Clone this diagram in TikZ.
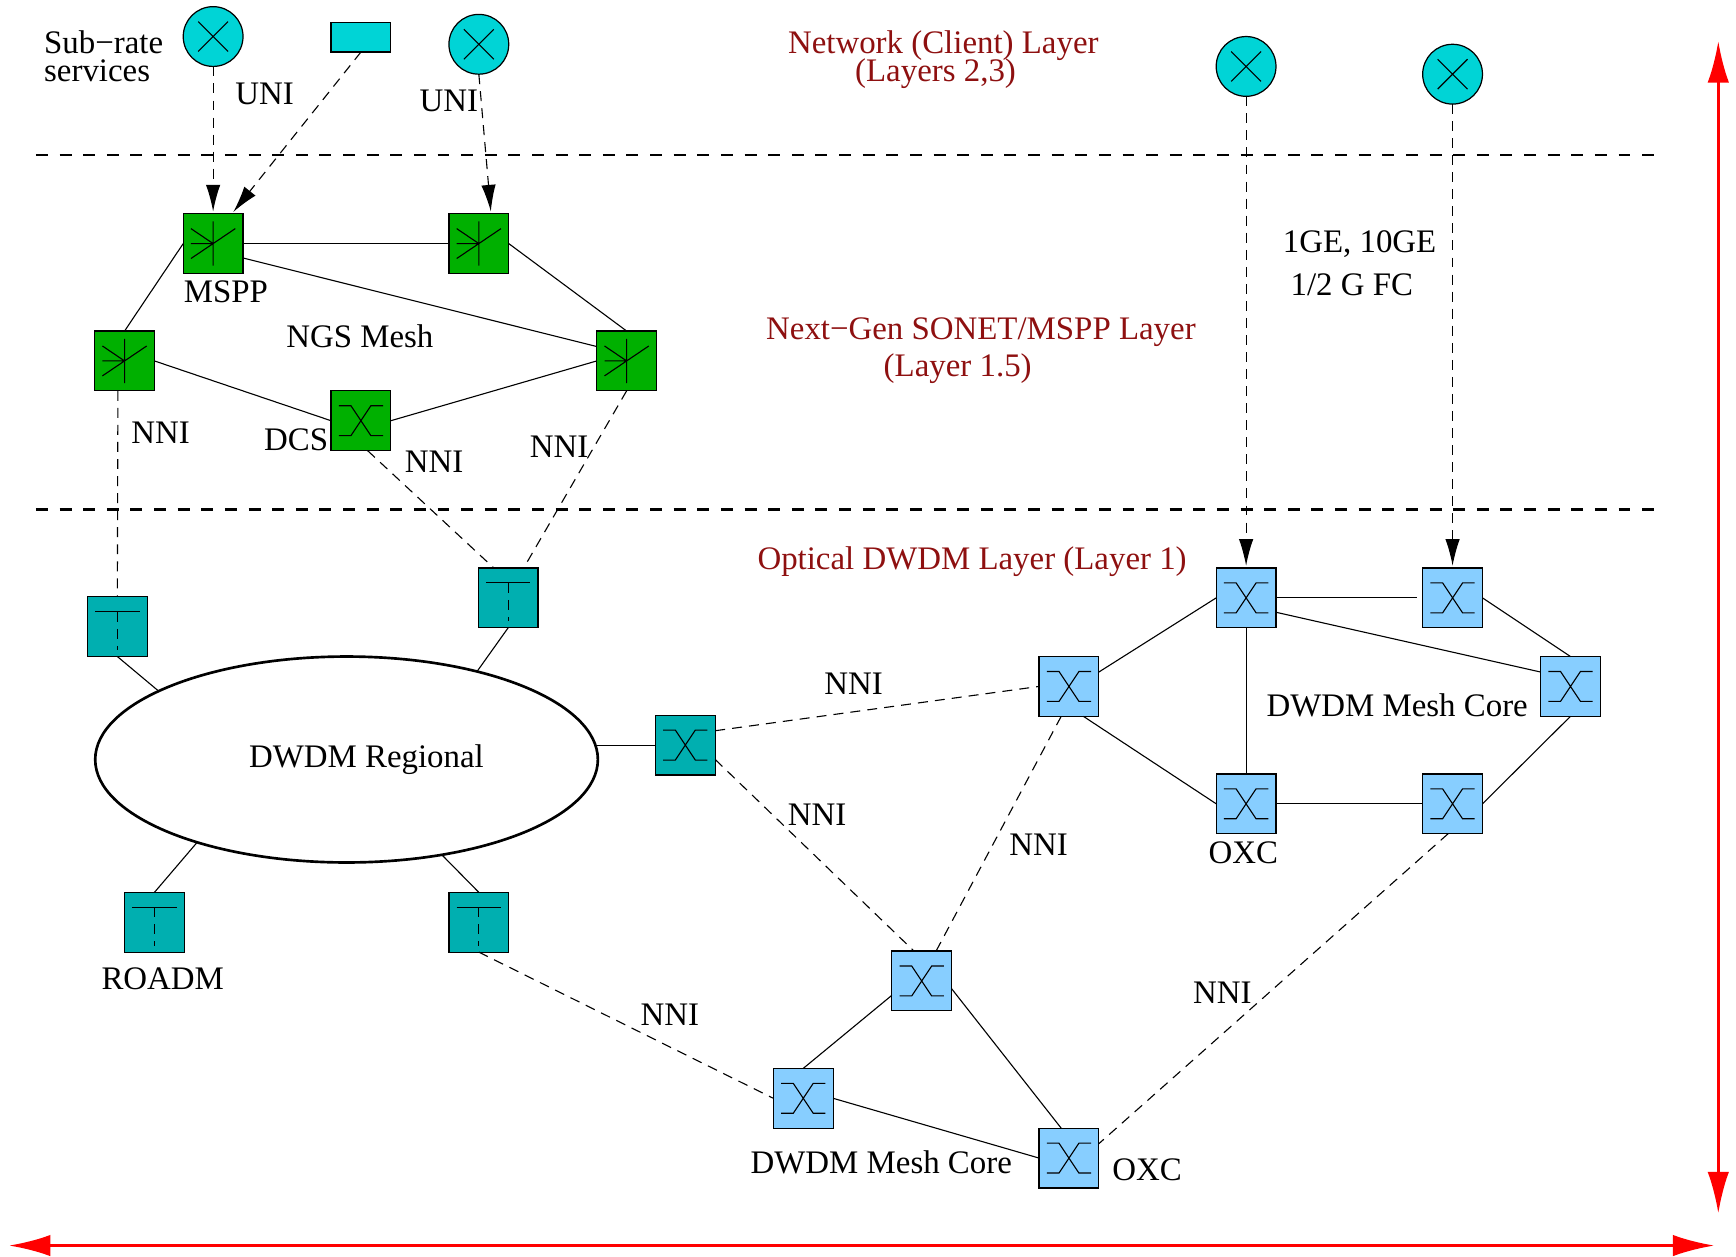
\documentclass[tikz,border=0pt]{standalone}
\usepackage{fontspec}
\setmainfont{Liberation Serif}
\usetikzlibrary{arrows.meta,calc,shapes.geometric}
\definecolor{cclient}{HTML}{00D4D6}
\definecolor{cgreen}{HTML}{00B000}
\definecolor{cteal}{HTML}{00AFB0}
\definecolor{cblue}{HTML}{87CEFF}
\definecolor{cdark}{HTML}{8E1010}
\tikzset{
  devbox/.style={draw=black,line width=.55pt,rectangle,minimum width=27pt,minimum height=27pt,inner sep=0pt,outer sep=0pt},
  clientnode/.style={draw=black,line width=.55pt,fill=cclient,circle,minimum size=27pt,inner sep=0pt,outer sep=0pt},
  sym/.style={line width=.5pt,line cap=butt},
  link/.style={line width=.5pt},
  nni/.style={line width=.5pt,dash pattern=on 4.5pt off 3.2pt},
  uni/.style={nni,-{Latex[length=12pt,width=6.5pt]},shorten >=1pt},
  layerline/.style={line width=1.35pt,dash pattern=on 5.4pt off 5.267pt},
  txt/.style={font=\fontsize{14.85}{17}\selectfont,anchor=base,yshift=-5pt,inner sep=0pt,text=black},
  redtxt/.style={txt,text=cdark},
  span/.style={red,line width=1.4pt,{Latex[length=18.8pt,width=9.7pt]}-{Latex[length=18.8pt,width=9.7pt]}}
}
\newcommand{\devX}[4]{%
  \node[devbox,fill=#4] (#1) at (#2,#3) {};
  \draw[sym,shift={(#1.center)}] (-20,-13.5)--(-9,-13.5)--(9,13.5)--(20,13.5) (-20,13.5)--(-9,13.5)--(9,-13.5)--(20,-13.5);}
\newcommand{\devStar}[3]{%
  \node[devbox,fill=cgreen] (#1) at (#2,#3) {};
  \draw[sym,shift={(#1.center)}] (0,-20)--(0,20) (-20,13.5)--(20,-13.5) (-20,-13.5)--(0,0) (-20,0)--(0,0);}
\newcommand{\devT}[3]{%
  \node[devbox,fill=cteal] (#1) at (#2,#3) {};
  \draw[sym,shift={(#1.center)}] (-20,-13.5)--(20,-13.5);
  \draw[sym,shift={(#1.center)},dash pattern=on 4.5pt off 3.2pt] (0,-13.5)--(0,21);}
\newcommand{\clientX}[3]{%
  \node[clientnode] (#1) at (#2,#3) {};
  \draw[sym,shift={(#1.center)}] (-13.5,-13.5)--(13.5,13.5) (-13.5,13.5)--(13.5,-13.5);}
\begin{document}
\begin{tikzpicture}[x=.5pt,y=-.5pt]
\useasboundingbox (0,0) rectangle (1568,1135);
% layer lines
\coordinate (la) at (32.5,140); \coordinate (lb) at (1494,140);
\coordinate (lc) at (32.5,460); \coordinate (ld) at (1494,460);
\draw[layerline] (la)--(lb);
\draw[layerline] (lc)--(ld);
% ellipse
\node[ellipse,draw=black,line width=1.2pt,fill=white,minimum width=227pt,minimum height=93pt,inner sep=0pt,outer sep=0pt] (reg) at (313,686) {};
% client devices
\clientX{ca}{192.5}{33}
\clientX{cb}{432.5}{40}
\clientX{cc}{1125.5}{60}
\clientX{cd}{1312}{67}
\node[draw=black,line width=.55pt,fill=cclient,minimum width=27pt,minimum height=13.5pt,inner sep=0pt,outer sep=0pt] (cr) at (326,33.5) {};
% NGS
\devStar{ga}{192.5}{220}
\devStar{gb}{432.5}{220}
\devStar{gc}{112.5}{326}
\devStar{gd}{566}{326}
\devX{dcs}{326}{380}{cgreen}
% ROADM
\devT{ta}{106}{566}
\devT{tb}{459}{540}
\devT{tc}{139.5}{833}
\devT{td}{432.5}{833}
\devX{tx}{619}{673}{cteal}
% core
\devX{ba}{1125.5}{540}{cblue}
\devX{bb}{1312}{540}{cblue}
\devX{bc}{1418.5}{620}{cblue}
\devX{bd}{965.5}{620}{cblue}
\devX{be}{1125.5}{726}{cblue}
\devX{bf}{1312}{726}{cblue}
\devX{bg}{832.5}{886}{cblue}
\devX{bh}{725.5}{992}{cblue}
\devX{bi}{965.5}{1046}{cblue}
% solid links
\draw[link] (ga.east)--(gb.west);
\draw[link] ($(ga.east)+(0,13)$)--($(gd.west)+(0,-13)$);
\draw[link] (gb.east)--(gd.north);
\draw[link] (ga.west)--(gc.north);
\draw[link] (gc.east)--(dcs.west);
\draw[link] (dcs.east)--(gd.west);
\draw[link] (ta.south)--(reg.160.2);
\draw[link] (tb.south)--(reg.34.5);
\draw[link] (reg.209)--(tc.north);
\draw[link] (reg.315)--(td.north);
\draw[link] ($(tx.west)+(-53,0)$)--(tx.west);
\draw[link] (ba.west)--($(bd.east)+(0,-13)$);
\draw[link] ($(bd.south)+(13,0)$)--(be.west);
\draw[link] (ba.south)--(be.north);
\draw[link] (ba.east)--($(bb.west)+(-5,0)$);
\draw[link] ($(ba.east)+(0,13)$)--($(bc.west)+(0,-13)$);
\draw[link] (bb.east)--(bc.north);
\draw[link] (bc.south)--(bf.east);
\draw[link] (be.east)--(bf.west);
\draw[link] ($(bg.west)+(0,13)$)--(bh.north);
\draw[link] ($(bg.east)+(0,7)$)--($(bi.north)+(-7,0)$);
\draw[link] (bh.east)--(bi.west);
% NNI links
\draw[nni] ($(gc.south)+(-6,0)$)--(ta.north);
\draw[nni] ($(dcs.south)+(6,0)$)--($(tb.north)+(-13,0)$);
\draw[nni] (gd.south)--($(tb.north)+(14,0)$);
\draw[nni] ($(tx.east)+(0,-13)$)--(bd.west);
\draw[nni] ($(tx.east)+(0,13)$)--($(bg.north)+(-7,0)$);
\draw[nni] ($(bd.south)+(-7,0)$)--($(bg.north)+(13,0)$);
\draw[nni] (td.south)--(bh.west);
\draw[nni] ($(bf.south)+(-4,0)$)--($(bi.east)+(0,-13)$);
% UNI links
\draw[uni] (ca.south)--(ga.north);
\draw[uni] (cr.south)--($(ga.north)+(17,0)$);
\draw[uni] (cb.south)--($(gb.north)+(11,0)$);
\draw[uni] (cc.south)--(ba.north);
\draw[uni] (cd.south)--(bb.north);
% red arrows
\coordinate (va) at (1552,37); \coordinate (vb) at (1552,1096);
\coordinate (ha) at (8,1125); \coordinate (hb) at (1548.5,1125);
\draw[span] (va)--(vb);
\draw[span] (ha)--(hb);
% labels
\node[txt,anchor=base west] (t1) at (39.5,38) {Sub−rate};
\node[txt,anchor=base west] (t2) at (39.5,64) {services};
\node[txt] (t3) at (239,84) {UNI};
\node[txt] (t4) at (405.5,91) {UNI};
\node[redtxt] (t5) at (852,38) {Network (Client) Layer};
\node[redtxt] (t6) at (845,64) {(Layers 2,3)};
\node[txt] (t7) at (1228,218) {1GE, 10GE};
\node[txt] (t8) at (1221,257) {1/2 G FC};
\node[txt] (t9) at (204,263) {MSPP};
\node[txt] (t10) at (325,304) {NGS Mesh};
\node[redtxt] (t11) at (886,297) {Next−Gen SONET/MSPP Layer};
\node[redtxt] (t12) at (865,330) {(Layer 1.5)};
\node[txt] (t13) at (145,391) {NNI};
\node[txt] (t14) at (267.5,397) {DCS};
\node[txt] (t15) at (392,417) {NNI};
\node[txt] (t16) at (505,403) {NNI};
\node[redtxt] (t17) at (878,504) {Optical DWDM Layer (Layer 1)};
\node[txt] (t18) at (771,617) {NNI};
\node[txt] (t19) at (1262,637) {DWDM Mesh Core};
\node[txt] (t20) at (331,683) {DWDM Regional};
\node[txt] (t21) at (738,736) {NNI};
\node[txt] (t22) at (938,763) {NNI};
\node[txt] (t23) at (1123,770) {OXC};
\node[txt] (t24) at (147,884) {ROADM};
\node[txt] (t25) at (605,916) {NNI};
\node[txt] (t26) at (1104,896) {NNI};
\node[txt] (t27) at (796,1050) {DWDM Mesh Core};
\node[txt] (t28) at (1036,1056) {OXC};
\end{tikzpicture}
\end{document}
